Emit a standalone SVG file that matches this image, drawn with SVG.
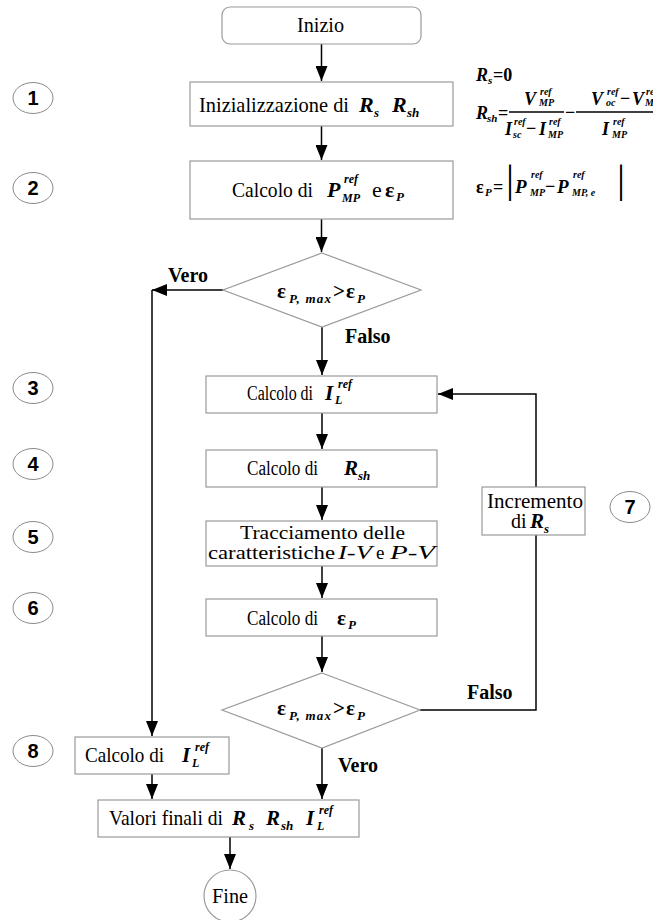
<svg xmlns="http://www.w3.org/2000/svg" width="653" height="920" viewBox="0 0 653 920">
<style>
.box{fill:#fff;stroke:#9a9a9a;stroke-width:1.2}
.ln{stroke:#000;stroke-width:1.5;fill:none}
.t{font-family:"Liberation Serif","Times New Roman",serif;fill:#000}
.m{font-family:"Liberation Serif","Times New Roman",serif;font-style:italic;font-weight:bold;fill:#000}
.g{font-family:"Liberation Serif","Times New Roman",serif;font-weight:bold;fill:#000}
.lab{font-family:"Liberation Serif","Times New Roman",serif;font-weight:bold;font-size:20px;fill:#000}
.num{font-family:"Liberation Sans",Arial,sans-serif;font-weight:bold;font-size:20px;text-anchor:middle;fill:#000}
.ell{fill:#fff;stroke:#8a8a8a;stroke-width:1}
.c{text-anchor:middle}
</style>
<defs>
<marker id="ah" markerUnits="userSpaceOnUse" markerWidth="16" markerHeight="12" refX="15" refY="6" orient="auto">
<path d="M0,0 L15,6 L0,12 z" fill="#000"/>
</marker>
</defs>

<g id="connectors">
<path class="ln" d="M321.5,44 V81" marker-end="url(#ah)"/>
<path class="ln" d="M321.5,126 V160" marker-end="url(#ah)"/>
<path class="ln" d="M321.5,219 V252" marker-end="url(#ah)"/>
<path class="ln" d="M223,290 H152" marker-end="url(#ah)"/>
<path class="ln" d="M152,290 V736" marker-end="url(#ah)"/>
<path class="ln" d="M322,327 V375" marker-end="url(#ah)"/>
<path class="ln" d="M322,413 V449" marker-end="url(#ah)"/>
<path class="ln" d="M322,487 V520" marker-end="url(#ah)"/>
<path class="ln" d="M322,566 V598" marker-end="url(#ah)"/>
<path class="ln" d="M322,636 V672" marker-end="url(#ah)"/>
<path class="ln" d="M420,710 H536 V394 H438" marker-end="url(#ah)"/>
<path class="ln" d="M322,748 V799" marker-end="url(#ah)"/>
<path class="ln" d="M152,774 V799" marker-end="url(#ah)"/>
<path class="ln" d="M230,837 V869" marker-end="url(#ah)"/>
</g>

<g id="n-start">
<rect class="box" x="222" y="7" width="199" height="37" rx="8"/>
<text class="t" x="297" y="32" font-size="21" textLength="47" lengthAdjust="spacingAndGlyphs">Inizio</text>
</g>

<g id="n1">
<rect class="box" x="190" y="82" width="263" height="44"/>
<text class="t" x="199" y="112" font-size="22" textLength="150" lengthAdjust="spacingAndGlyphs">Inizializzazione di</text>
<text class="m" x="359" y="112" font-size="22">R</text>
<text class="m" x="374" y="117" font-size="13">s</text>
<text class="m" x="392" y="112" font-size="22">R</text>
<text class="m" x="407" y="117" font-size="13">sh</text>
</g>

<g id="n2">
<rect class="box" x="190" y="161" width="263" height="58"/>
<text class="t" x="232" y="197" font-size="22" textLength="81" lengthAdjust="spacingAndGlyphs">Calcolo di</text>
<text class="m" x="327" y="197" font-size="22">P</text>
<text class="m" x="344" y="183" font-size="12">ref</text>
<text class="m" x="342" y="202" font-size="12">MP</text>
<text class="t" x="372" y="197" font-size="22">e</text>
<text class="g" x="385" y="197" font-size="22">ε</text>
<text class="m" x="396" y="201" font-size="13">P</text>
</g>

<g id="d1">
<polygon class="box" points="322,253 421,290 322,327 223,290"/>
<text class="g" x="277" y="298" font-size="21">ε</text>
<text class="m" x="289" y="303" font-size="13" textLength="42" lengthAdjust="spacing">P, max</text>
<text class="g" x="333" y="298" font-size="21">&gt;</text>
<text class="g" x="346" y="298" font-size="21">ε</text>
<text class="m" x="357" y="303" font-size="13">P</text>
</g>

<g id="n3">
<rect class="box" x="206" y="376" width="231" height="37"/>
<text class="t" x="247" y="400" font-size="20" textLength="66" lengthAdjust="spacingAndGlyphs">Calcolo di</text>
<text class="m" x="325" y="400" font-size="21">I</text>
<text class="m" x="338" y="388" font-size="12">ref</text>
<text class="m" x="335" y="404" font-size="12">L</text>
</g>

<g id="n4">
<rect class="box" x="206" y="450" width="231" height="37"/>
<text class="t" x="247" y="475" font-size="20" textLength="71" lengthAdjust="spacingAndGlyphs">Calcolo di</text>
<text class="m" x="344" y="475" font-size="21">R</text>
<text class="m" x="358" y="480" font-size="13">sh</text>
</g>

<g id="n5">
<rect class="box" x="206" y="521" width="231" height="45"/>
<text class="t" x="240" y="539" font-size="19" textLength="165" lengthAdjust="spacingAndGlyphs">Tracciamento delle</text>
<text class="t" x="208" y="559" font-size="19" textLength="127" lengthAdjust="spacingAndGlyphs">caratteristiche</text>
<text class="t" x="338" y="559" font-size="19" font-style="italic" textLength="34" lengthAdjust="spacingAndGlyphs">I-V</text>
<text class="t" x="376" y="559" font-size="19">e</text>
<text class="t" x="390" y="559" font-size="19" font-style="italic" textLength="45" lengthAdjust="spacingAndGlyphs">P-V</text>
</g>

<g id="n6">
<rect class="box" x="206" y="599" width="231" height="37"/>
<text class="t" x="247" y="625" font-size="20" textLength="71" lengthAdjust="spacingAndGlyphs">Calcolo di</text>
<text class="g" x="337" y="625" font-size="21">ε</text>
<text class="m" x="348" y="629" font-size="13">P</text>
</g>

<g id="d2">
<polygon class="box" points="322,673 420,710 322,748 222,710"/>
<text class="g" x="277" y="715" font-size="21">ε</text>
<text class="m" x="289" y="720" font-size="13" textLength="42" lengthAdjust="spacing">P, max</text>
<text class="g" x="333" y="715" font-size="21">&gt;</text>
<text class="g" x="346" y="715" font-size="21">ε</text>
<text class="m" x="357" y="720" font-size="13">P</text>
</g>

<g id="n7">
<rect class="box" x="482" y="487" width="103" height="48"/>
<text class="t" x="487" y="508" font-size="20" textLength="96" lengthAdjust="spacingAndGlyphs">Incremento</text>
<text class="t" x="511" y="528" font-size="20">di</text>
<text class="m" x="530" y="528" font-size="21">R</text>
<text class="m" x="544" y="533" font-size="13">s</text>
</g>

<g id="n8">
<rect class="box" x="75" y="737" width="154" height="37"/>
<text class="t" x="85" y="762" font-size="21" textLength="79" lengthAdjust="spacingAndGlyphs">Calcolo di</text>
<text class="m" x="182" y="762" font-size="21">I</text>
<text class="m" x="195" y="751" font-size="12">ref</text>
<text class="m" x="192" y="767" font-size="12">L</text>
</g>

<g id="n9">
<rect class="box" x="98" y="800" width="261" height="37"/>
<text class="t" x="109" y="825" font-size="21" textLength="114" lengthAdjust="spacingAndGlyphs">Valori finali di</text>
<text class="m" x="232" y="825" font-size="21">R</text>
<text class="m" x="249" y="830" font-size="13">s</text>
<text class="m" x="266" y="825" font-size="21">R</text>
<text class="m" x="281" y="830" font-size="13">sh</text>
<text class="m" x="306" y="825" font-size="21">I</text>
<text class="m" x="319" y="814" font-size="12">ref</text>
<text class="m" x="317" y="830" font-size="12">L</text>
</g>

<g id="n-end">
<circle class="box" cx="230" cy="896" r="26"/>
<text class="t c" x="230" y="903" font-size="21" textLength="36" lengthAdjust="spacingAndGlyphs">Fine</text>
</g>

<g id="labels">
<text class="lab" x="168" y="282">Vero</text>
<text class="lab" x="345" y="343">Falso</text>
<text class="lab" x="467" y="699">Falso</text>
<text class="lab" x="338" y="772">Vero</text>
</g>

<g id="steps">
<ellipse class="ell" cx="33" cy="98" rx="20" ry="15.5"/><text class="num" x="33" y="105">1</text>
<ellipse class="ell" cx="33" cy="188" rx="20" ry="15.5"/><text class="num" x="33" y="195">2</text>
<ellipse class="ell" cx="33" cy="388" rx="20" ry="15.5"/><text class="num" x="33" y="395">3</text>
<ellipse class="ell" cx="33" cy="464" rx="20" ry="15.5"/><text class="num" x="33" y="471">4</text>
<ellipse class="ell" cx="33" cy="537" rx="20" ry="15.5"/><text class="num" x="33" y="544">5</text>
<ellipse class="ell" cx="33" cy="608" rx="20" ry="15.5"/><text class="num" x="33" y="615">6</text>
<ellipse class="ell" cx="630" cy="507" rx="20" ry="15.5"/><text class="num" x="630" y="514">7</text>
<ellipse class="ell" cx="33" cy="751" rx="20" ry="15.5"/><text class="num" x="33" y="758">8</text>
</g>

<g id="formulas">
<text class="m" x="476" y="81" font-size="18">R</text>
<text class="m" x="488" y="84" font-size="11">s</text>
<text class="g" x="493" y="81" font-size="18">=0</text>

<text class="m" x="476" y="119" font-size="18">R</text>
<text class="m" x="487" y="122" font-size="11">sh</text>
<text class="g" x="498" y="119" font-size="18">=</text>
<line x1="509" y1="112" x2="564" y2="112" stroke="#000" stroke-width="1.3"/>
<text class="m" x="524" y="105" font-size="18">V</text>
<text class="m" x="540" y="95" font-size="10">ref</text>
<text class="m" x="539" y="106" font-size="10">MP</text>
<text class="m" x="505" y="135" font-size="18">I</text>
<text class="m" x="514" y="125" font-size="10">ref</text>
<text class="m" x="513" y="138" font-size="10">sc</text>
<text class="g" x="526" y="134" font-size="18">−</text>
<text class="m" x="539" y="135" font-size="18">I</text>
<text class="m" x="549" y="125" font-size="10">ref</text>
<text class="m" x="548" y="138" font-size="10">MP</text>
<text class="g" x="565" y="118" font-size="18">−</text>
<line x1="576" y1="112" x2="660" y2="112" stroke="#000" stroke-width="1.3"/>
<text class="m" x="591" y="105" font-size="18">V</text>
<text class="m" x="607" y="95" font-size="10">ref</text>
<text class="m" x="606" y="106" font-size="10">oc</text>
<text class="g" x="620" y="104" font-size="18">−</text>
<text class="m" x="632" y="105" font-size="18">V</text>
<text class="m" x="646" y="95" font-size="10">ref</text>
<text class="m" x="645" y="106" font-size="10">MP</text>
<text class="m" x="602" y="135" font-size="18">I</text>
<text class="m" x="613" y="125" font-size="10">ref</text>
<text class="m" x="612" y="138" font-size="10">MP</text>

<text class="g" x="476" y="193" font-size="18">ε</text>
<text class="m" x="485" y="196" font-size="11">P</text>
<text class="g" x="493" y="193" font-size="18">=</text>
<text class="t" x="506" y="192" font-size="40">|</text>
<text class="m" x="515" y="193" font-size="19">P</text>
<text class="m" x="531" y="178" font-size="10">ref</text>
<text class="m" x="530" y="196" font-size="10">MP</text>
<text class="g" x="545" y="192" font-size="18">−</text>
<text class="m" x="557" y="193" font-size="19">P</text>
<text class="m" x="573" y="178" font-size="10">ref</text>
<text class="m" x="572" y="196" font-size="10">MP, e</text>
<text class="t" x="617" y="192" font-size="40">|</text>
</g>
</svg>
